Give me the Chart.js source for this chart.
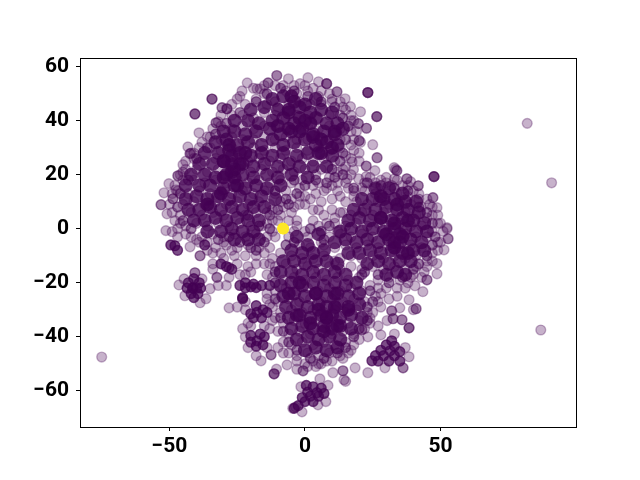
<!DOCTYPE html>
<html>
<head>
<meta charset="utf-8">
<style>
  html, body { margin: 0; padding: 0; background: #fff; }
</style>
<script src="https://cdn.jsdelivr.net/npm/chart.js@4"></script>
</head>
<body>
<canvas id="chart" width="640" height="480"></canvas>
<script>
// values; dense areas stand in for many overplotted dots
const xTicks = [-50, 0, 50];
const yTicks = [-60, -40, -20, 0, 20, 40, 60];

const yellowPoints = [[-8,0],[-8,0],[-8,0],[-8.2,0.2]];

const outliers = [[82,39],[91,17],[87,-37.5],[-75,-47.5]];

const fringe = [
[-10.4,56.7],[-10.4,56.7],[-6.1,55.5],[-13.6,54],[-13.6,54],[-21.3,54],[-23.2,51],[-17.7,51.8],[-16.5,51.8],[-1.8,53.7],
[-34.3,48],[-34.3,48],[-34.3,48],[-30.6,44.8],[-30.6,44.8],[-28.8,44.4],[-28.8,44.4],[-28.8,44.4],[-40.6,42.5],[-40.6,42.5],[-40.6,42.5],
[-32.8,39.2],[-32.8,39.2],[-32,39.6],[-39.1,35.5],[-43.2,30.3],[-42.4,27.8],[-42.4,27.8],[-42,28],[-45,23.7],[-46.9,19.6],[-46.9,19.6],[-46,20],
[-50.2,16.7],[-52,13.3],[-47.6,14.4],[-48.7,11.1],[-48.7,11.1],[-53.1,8.9],[-53.1,8.9],[-50.9,5.5],[-51.3,-0.7],[-49,-1.1],[-47,-3],[-46,2],
[1.1,55.9],[5,54.4],[8,53.7],[8,53.7],[8,53.7],[11.8,50.7],[11.8,50.7],[23.2,50.4],[23.2,50.4],[23.2,50.4],[23.2,50.4],[14.8,48.1],[16.8,45.2],[20.5,43.3],
[26.5,41.5],[26.5,41.5],[26.5,41.5],[19.7,38.9],[19.7,38.9],[22.7,37.2],[22.7,37.2],[20,32.6],[20,32.6],[20.5,32],[25,31.1],[20,28],[26.6,26.3],[26.6,26.3],
[17.4,24.8],[22.6,23.2],[22.6,23.2],[25.8,21.5],[17.9,21.9],[32.9,22.6],[33.4,22],[33.9,21.5],[33.9,21.5],[47.6,19.3],[47.6,19.3],[47.6,19.3],[47.6,19.3],
[15.6,18.5],[19.8,18.5],[22.6,19.3],[37.6,18.5],[37.6,18.5],[39,17.4],[41.8,15.9],[41.8,15.9],[47.2,11.5],[47.2,11.5],[48.7,7.8],[52.4,0],[52.8,-3.7],[52.8,-3.7],
[30,17],[33,18.5],[26,15],[21,15],[16,15],[12,17],[7,14],[3,16],[-2,12],[-1,18],[4,20],[9,19],[13,12],[-5,6],[0,9],[5,7],
[52.4,0.4],[51.3,-7.8],[48.7,-12.9],[48.7,-16.7],[45,-18.9],[45,-18.9],[43.5,-23.3],[40.6,-21.1],[38.4,-26.3],[41,-29.6],[41,-29.6],[40,-30],
[35,-29.3],[32,-30.4],[32,-30.4],[30.3,-34],[32.5,-33.3],[32.5,-33.3],[35.8,-33.7],[35.8,-33.7],[38.4,-36.7],[38.4,-36.7],[38.4,-36.7],[28,-39.3],[33,-39],[23.2,-40],[21,-37.4],[21,-37.4],
[38.4,-47.4],[36.2,-51.5],[36.2,-51.5],[29.5,-51.5],[23.2,-53.3],[18.5,-51.5],[14,-52.6],[14,-52.6],[10.3,-53.3],[14.4,-55.9],[37,-44],[27,-36],[24,-33],[28,-29],[31,-26],[34,-25],[37,-22],
[-46.5,-20.8],[-44.6,-18.6],[-40.6,-16.3],[-40.6,-16.3],[-38,-18.6],[-35,-22.2],[-36.5,-25.9],[-38.7,-27.4],[-44.3,-24.8],[-28,-29.3],
[-23,-25.9],[-23,-25.9],[-23,-25.9],[-12.5,-46.7],[-12.5,-46.7],[-16.2,-48.9],[-11.4,-53.7],[-11.4,-53.7],[-11.4,-53.7],[-10.5,-52],[-0.7,-52.6],[-0.7,-52.6],[-6.6,-50.4],[-3,-52],[1,-51],[4,-51],[6,-50],[15,-56.5],
[5.5,-55.6],[-1.5,-58.5],[7.7,-64],[4.8,-65.2],[-1.1,-67.8],[8.5,-58],[-3.5,-66],[-4.5,-66.5],
[-42.4,-6.7],[-38.7,-10],[-38.7,-10],[-34,-13],[-32.5,-18],[-32.5,-18],[-28,-14.4],[-28,-14.4],[-21,-14],[-36,-8],[-30,-11],[-25,-13],[-24,-17],[-20,-16],[-34,-15],[-36,-5],[-31,-9],[-27,-8],
[-25,-29],[-21,-35],[-23,-37],[-22,-30],[-22,-27],[-21,-44],[-22,-40],[-13,-37],[-12,-34],[-12,-29],[-14,-26],[-10,-44],[-8,-46],[-14,-44],[-18,-47],[-15,-36],[-20,-36],
[0,12],[-4,8],[-9,5],[-6,3],[-3,3],[0,-1],[-11,-3],[-12,3],[3,3],[10,7],[14,6],[8,2],[12,-1]
];

const rim = [
[-19,52],[-15,53],[-11,53],[-8,53],[-4,53],[0,53],[3,52],[6,51],[10,48],[13,47],[15,44],[17,42],[18,40],[19,36],[18,33],[18,29],[17,26],[15,23],
[-25,48],[-27,46],[-24,49],[-31,42],[-34,37],[-36,34],[-38,32],[-41,28],[-44,25],[-45,21],[-48,16],[-49,13],[-50,9],[-49,6],[-48,3],[-47,0],[-44,-2],[-42,-3],[-39,-5],
[22,17],[26,17],[30,19],[34,18],[38,16],[42,13],[45,11],[47,8],[49,5],[50,2],[51,-1],[50,-5],[49,-8],[47,-12],[45,-14],[43,-18],[40,-17],[38,-20],[34,-22],[30,-22],[27,-22],
[-13,-13],[-14,-17],[-14,-24],[-13,-28],[-11,-33],[-10,-38],[-8,-42],[-6,-46],[-3,-49],[0,-50],[5,-50],[10,-49],[14,-48],[16,-46],[18,-43],[20,-41],[22,-37],[24,-35],[25,-31],[27,-27],[28,-24],
[-12,-1],[-10,3],[-14,2],[-12,7],[-8,8],[-5,11],[-2,9],[2,11],[6,10],[-4,-1],[-15,-9],[-12,-11],[-18,-10],[-22,-10],[-26,-10],[-15,-13],[-18,-13],[-22,-17],[-28,-18],[-30,-5],[-34,-9],[-40,-4],[-29,-21],[-32,-21],
[14,22],[17,20],[20,25],[15,17],[10,16],[8,15],[4,13],[-2,15],[5,17],[12,14],[18,12],[10,11],[7,5],[11,4],[3,7]
];

const mid = [
[-15,50],[-11,47],[-7,51],[-3,50],[1,51],[5,49],[9,50],[-22,46],[-18,48],[-14,46],[-10,45],[-6,46],[-2,47],[2,46],[6,46],[10,47],[14,45],
[-27,42],[-23,42],[-19,41],[-15,43],[-11,42],[-7,41],[-3,42],[1,42],[5,41],[9,42],[13,42],[17,40],[-31,38],[-27,37],[-23,38],[-19,37],[-15,38],[-11,38],[-7,37],[-3,38],[1,38],[5,37],[9,38],[13,37],[17,36],
[-35,34],[-31,33],[-27,34],[-23,33],[-19,33],[-15,34],[-11,33],[-7,34],[-3,33],[1,33],[5,34],[9,33],[13,33],[17,31],[-39,30],[-35,30],[-31,29],[-27,30],[-23,29],[-19,30],[-15,29],[-11,30],[-7,29],[-3,30],[1,29],[5,30],[9,29],[13,30],
[-41,26],[-37,25],[-33,26],[-29,25],[-25,26],[-21,25],[-17,26],[-13,25],[-9,26],[-5,25],[-1,26],[3,25],[7,26],[11,25],[15,27],[-44,22],[-40,22],[-36,21],[-32,22],[-28,21],[-24,22],[-20,21],[-16,22],[-12,21],[-8,22],[-4,21],[0,22],[6,22],[12,21],
[-45,18],[-41,18],[-37,17],[-33,18],[-29,17],[-25,18],[-21,17],[-17,18],[-13,17],[-9,18],[-5,17],[-47,14],[-43,13],[-39,14],[-35,13],[-31,14],[-27,13],[-23,14],[-19,13],[-15,14],[-11,13],[-7,14],
[-45,9],[-41,10],[-37,9],[-33,10],[-29,9],[-25,10],[-21,9],[-17,10],[-13,9],[-9,10],[-46,5],[-42,6],[-38,5],[-34,6],[-30,5],[-26,6],[-22,5],[-18,6],[-14,6],[-44,1],[-40,2],[-36,1],[-32,2],[-28,1],[-24,2],[-20,1],[-16,1],[-38,-3],[-34,-2],[-30,-3],[-26,-2],[-22,-3],[-18,-2],[-14,-3],[-33,-7],[-29,-6],[-25,-7],[-21,-6],[-17,-7],[-13,-7],
[24,19],[28,18],[32,16],[36,16],[40,14],[18,14],[22,14],[26,13],[30,13],[34,13],[38,12],[42,11],[46,9],[15,10],[19,10],[23,9],[27,10],[31,9],[35,10],[39,9],[43,8],[47,5],[13,6],[17,5],[21,6],[25,5],[29,6],[33,5],[37,6],[41,5],[45,4],[49,2],[11,2],[15,1],[19,2],[23,1],[27,2],[31,1],[35,2],[39,1],[43,1],[47,-1],[9,-3],[13,-2],[17,-3],[21,-2],[25,-3],[29,-2],[33,-3],[37,-2],[41,-3],[45,-3],[49,-5],[7,-6],[11,-7],[15,-6],[19,-7],[23,-6],[27,-7],[31,-6],[35,-7],[39,-6],[43,-7],[47,-9],[13,-11],[17,-10],[21,-11],[25,-10],[29,-11],[33,-10],[37,-11],[41,-10],[45,-12],[21,-15],[25,-14],[29,-15],[33,-14],[37,-15],[41,-14],[44,-16],[27,-19],[31,-18],[35,-19],[39,-18],
[-3,1],[1,-3],[5,1],[-6,-3],[-2,-6],[2,-7],[6,-5],[-9,-9],[-5,-10],[-1,-11],[3,-11],[7,-10],[11,-12],[-11,-14],[-7,-13],[-3,-15],[1,-14],[5,-15],[9,-14],[13,-15],[17,-14],[-12,-18],[-8,-19],[-4,-18],[0,-19],[4,-18],[8,-19],[12,-18],[16,-19],[20,-18],[-11,-23],[-7,-22],[-3,-23],[1,-22],[5,-23],[9,-22],[13,-23],[17,-22],[21,-23],[24,-21],[-10,-27],[-6,-26],[-2,-27],[2,-26],[6,-27],[10,-26],[14,-27],[18,-26],[22,-27],[26,-25],[-9,-31],[-5,-30],[-1,-31],[3,-30],[7,-31],[11,-30],[15,-31],[19,-30],[23,-31],[-8,-35],[-4,-34],[0,-35],[4,-34],[8,-35],[12,-34],[16,-35],[20,-34],[-6,-39],[-2,-38],[2,-39],[6,-38],[10,-39],[14,-38],[18,-39],[-5,-43],[-1,-42],[3,-43],[7,-42],[11,-43],[15,-42],[-3,-47],[1,-46],[5,-47],[9,-46],[13,-47],[17,-45],[3,-49],[8,-49]
];

const core = [
[-12,48],[-8,49],[-4,47],[0,46],[4,48],[-20,44],[-15,45],[-10,44],[-6,43],[-2,45],[2,43],[6,44],[10,43],
[-26,40],[-21,40],[-17,39],[-12,40],[-8,41],[-4,39],[0,40],[4,41],[8,39],[12,39],[-30,36],[-26,36],[-22,35],[-18,36],[-13,37],[-9,35],[-5,36],[-1,37],[3,35],[7,36],[11,35],[14,37],
[-33,32],[-29,33],[-25,31],[-21,32],[-16,31],[-12,33],[-8,31],[-4,32],[0,33],[4,31],[8,32],[12,31],[-37,28],[-32,28],[-28,29],[-24,28],[-20,27],[-16,28],[-12,27],[-8,28],[-3,27],[1,28],[5,28],[10,27],
[-39,24],[-34,24],[-30,25],[-27,24],[-26,22],[-23,24],[-19,23],[-15,24],[-10,23],[-6,24],[-2,23],[3,23],[8,23],[-42,20],[-37,20],[-33,19],[-29,20],[-26,19],[-23,20],[-19,19],[-14,20],[-10,19],[-5,20],[1,19],
[-44,16],[-39,16],[-35,16],[-30,15],[-26,16],[-22,15],[-18,16],[-14,15],[-9,16],[-44,11],[-40,12],[-36,11],[-32,12],[-28,11],[-24,12],[-20,11],[-16,12],[-11,11],
[-43,7],[-39,7],[-35,8],[-31,7],[-27,8],[-23,7],[-19,8],[-15,8],[-41,3],[-37,3],[-33,4],[-29,3],[-25,4],[-21,3],[-17,3],[-36,-1],[-31,-1],[-27,0],[-23,-1],[-19,-1],[-26,-4],[-21,-4],[-17,-4],
[26,15],[31,15],[36,13],[21,11],[25,11],[29,11],[33,11],[37,10],[41,10],[18,7],[22,7],[26,7],[30,8],[34,7],[38,7],[42,6],[16,3],[20,4],[24,3],[28,4],[32,3],[36,4],[40,3],[44,2],
[13,-1],[17,0],[21,-1],[25,0],[29,-1],[33,0],[35,-2],[37,0],[41,-1],[45,-1],[11,-5],[15,-4],[19,-5],[23,-4],[27,-5],[31,-4],[33,-5],[35,-5],[39,-4],[43,-5],[16,-9],[20,-9],[24,-8],[28,-9],[32,-8],[36,-9],[40,-8],[44,-8],[23,-13],[27,-12],[31,-13],[35,-12],[39,-12],[30,-17],[34,-16],[37,-17],
[-3,-3],[1,-6],[5,-2],[-5,-8],[-1,-9],[3,-9],[7,-8],[-8,-12],[-4,-12],[0,-13],[4,-12],[8,-12],[12,-13],[-9,-16],[-5,-16],[-1,-17],[3,-16],[7,-17],[11,-16],[15,-17],[-9,-21],[-5,-20],[-1,-21],[3,-20],[7,-21],[11,-20],[15,-21],[19,-20],
[-8,-25],[-4,-24],[0,-25],[4,-24],[8,-25],[12,-24],[16,-25],[20,-24],[-7,-29],[-3,-28],[1,-29],[5,-28],[8,-29],[12,-28],[16,-29],[20,-28],[-6,-33],[-2,-32],[2,-33],[6,-32],[8,-33],[10,-32],[13,-33],[17,-32],[21,-33],[-5,-37],[-1,-36],[3,-37],[7,-36],[10,-37],[13,-36],[17,-37],[-3,-41],[1,-40],[5,-41],[9,-40],[13,-41],[0,-45],[4,-44],[8,-45],[12,-44]
];

const hot = [
[-30,25],[-27,27],[-24,24],[-27,21],[-30,19],[-25,16],[-22,28],[-28,31],[-31,13],[-36,9],
[-6,44],[-2,41],[-6,37],[-2,36],[2,39],[-10,38],[-5,49],[6,33],[10,30],[6,28],[3,34],[11,36],
[33,2],[30,-2],[36,-3],[33,-7],[38,3],[28,4],[34,9],[28,12],[38,-9],
[8,-33],[5,-30],[11,-29],[12,-36],[7,-38],[2,-35],[-3,-32],[-6,-24],[-2,-20],[16,-30],[4,-24],[11,-24]
];

const fillIn = [
[-18,-8],[-15,-5],[-20,-7],[-24,-5],[-28,-3],[-32,-4],[-13,0],[-17,1],[-21,5],[-13,5],[-10,7],[-6,9],[-11,14],[-7,11],[-3,13],[-4,18],[0,16],[4,18],[8,17],[11,19],[14,20],
[-47,8],[-45,3],[-42,0],[-46,13],[-43,18],[-40,26],[-36,30],[-33,35],[-29,39],[-24,43],[-18,47],[-14,50],[-9,52],[-4,51],[1,49],[6,47],[11,45],[14,41],[16,38],[15,33],[14,28],[13,25],[10,22],
[2,0],[6,-1],[9,1],[7,-4],[-4,-5],[-7,-6],[-11,-16],[-11,-20],[-11,-26],[-9,-33],[-8,-38],[-6,-42],[-3,-45],[2,-48],[7,-48],[12,-46],[15,-44],[18,-40],[20,-37],[23,-34],[23,-29],[25,-27],[24,-23],[21,-17],
[18,15],[23,17],[28,16],[33,15],[38,14],[42,8],[45,6],[47,2],[48,-3],[47,-6],[45,-10],[42,-13],[40,-15],[36,-18],[31,-20],[27,-17],[22,-16]
];

const clusters = [
[-41.3,-21.9],[-43,-20],[-39,-20],[-42,-24],[-39.5,-24],[-41,-18.5],[-41.5,-22],[-40,-22],[-43.5,-22],[-38.5,-22],[-41,-25.5],
[-22,-21.9],[-20,-21.5],[-18,-21.8],[-24,-21],[-16,-21],[-13,-21],[-23,-25.5],[-22,-20],[-19,-20.5],
[-17.7,-31],[-15.5,-30],[-20,-31.5],[-16,-33],[-18,-28.5],[-19,-33],[-14,-31],
[-17.7,-41.5],[-15,-40],[-20,-42],[-16.5,-39],[-18,-43.5],[-20,-39.5],[-15.5,-43],
[4.4,-60.7],[2,-62],[6,-59],[3,-58.5],[0,-64],[-2.5,-65.5],[1,-60.5],[5,-62],[-4,-66.5],[7,-61],[3,-64],[-1,-62.5],[0.5,-58],
[31.4,-45.2],[29,-47],[33,-47],[33,-43.5],[24.7,-48.9],[27,-49],[31,-49],[35,-49],[26,-47],[30,-43],[35,-45.5],[32,-41.5],[28,-45],
[-48,-6.3],[-47,-8],[-49.5,-6],[-31,-13],[-37,-6],[-29,-14],[-27,-15]
];

// each list is its own dataset, heavier lists stand for piled up dots
function scatterSet(points, color, alpha, radius, edge) {
    const fill = color + alpha + ')';
    return {
        data: points.map(p => ({ x: p[0], y: p[1] })),
        backgroundColor: fill,
        borderColor: fill,
        borderWidth: edge,
        pointRadius: radius,
        pointHoverRadius: radius
    };
}

const frameBox = {
    id: 'frameBox',
    afterDraw(chart) {
        const a = chart.chartArea, ctx = chart.ctx;
        ctx.save();
        ctx.strokeStyle = '#000';
        ctx.lineWidth = 1;
        ctx.strokeRect(Math.round(a.left) + 0.5, Math.round(a.top) + 0.5, Math.round(a.width), Math.round(a.height));
        ctx.restore();
    }
};

const tickFont = { family: 'Roboto', weight: 'bold', size: 21 };

function minusLabel(v) {
    return String(v).replace('-', '\u2212');
}

new Chart(document.getElementById('chart'), {
    type: 'scatter',
    data: {
        datasets: [
            scatterSet(yellowPoints, 'rgba(253,231,37,', 1, 4.9, 1.4),
            scatterSet(outliers, 'rgba(68,1,84,', 0.3, 4.9, 1.4),
            scatterSet(fringe, 'rgba(68,1,84,', 0.3, 4.9, 1.4),
            scatterSet(rim, 'rgba(68,1,84,', 0.3, 4.9, 1.4),
            scatterSet(clusters, 'rgba(68,1,84,', 0.7, 4.9, 1.4),
            scatterSet(mid, 'rgba(68,1,84,', 0.3, 4.9, 1.4),
            scatterSet(fillIn, 'rgba(68,1,84,', 0.5, 4.9, 1.4),
            scatterSet(core, 'rgba(68,1,84,', 0.8, 7, 0),
            scatterSet(hot, 'rgba(68,1,84,', 0.85, 7, 0)
        ]
    },
    options: {
        responsive: false,
        animation: false,
        layout: { padding: { top: 58, right: 64, left: 0, bottom: 0 } },
        plugins: { legend: { display: false }, tooltip: { enabled: false } },
        scales: {
            x: {
                type: 'linear',
                min: -83,
                max: 100,
                afterFit: s => { s.height = 53; },
                afterBuildTicks: s => { s.ticks = xTicks.map(v => ({ value: v })); },
                grid: { drawOnChartArea: false, tickLength: 4, color: '#000' },
                border: { display: false },
                ticks: { color: '#000', font: tickFont, padding: 3, maxRotation: 0, autoSkip: false, callback: minusLabel }
            },
            y: {
                type: 'linear',
                min: -73.4,
                max: 63.2,
                afterFit: s => { s.width = 80; },
                afterBuildTicks: s => { s.ticks = yTicks.map(v => ({ value: v })); },
                grid: { drawOnChartArea: false, tickLength: 4, color: '#000' },
                border: { display: false },
                ticks: { color: '#000', font: tickFont, padding: 7, autoSkip: false, callback: minusLabel }
            }
        }
    },
    plugins: [frameBox]
});
</script>
</body>
</html>
